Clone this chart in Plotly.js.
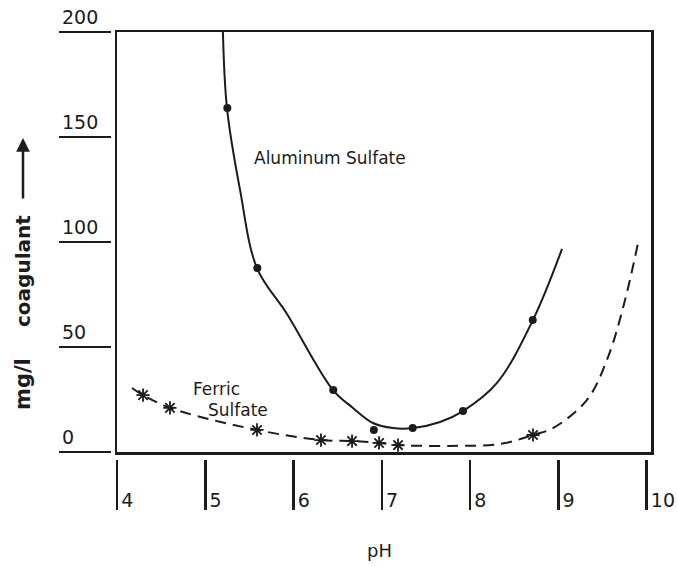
<!DOCTYPE html>
<html>
<head>
<meta charset="utf-8">
<script src="https://cdn.plot.ly/plotly-3.0.1.min.js"></script>
<style>html,body{margin:0;padding:0;background:#fff;}#chart{width:678px;height:566px;}</style>
</head>
<body>
<div id="chart"></div>
<script>
// pH tick labels and coagulant tick labels
const phTicks = [4, 5, 6, 7, 8, 9, 10];
const doseTicks = [0, 50, 100, 150, 200];

// Aluminum sulfate: smooth curve
const alCurvePH   = [5.20, 5.246, 5.394, 5.586, 5.926, 6.447, 6.674, 6.90, 7.127, 7.354, 7.66, 7.92, 8.305, 8.713, 9.042];
const alCurveDose = [200, 163.8, 124.8, 87.6, 65.7, 29.5, 21.0, 13.8, 11.4, 11.4, 14.3, 19.5, 32.9, 62.9, 96.7];
// Aluminum sulfate: measured points (dots)
const alPtsPH   = [5.25, 5.59, 6.45, 6.91, 7.35, 7.92, 8.71];
const alPtsDose = [163.8, 87.6, 29.5, 10.5, 11.4, 19.5, 62.9];

// Ferric sulfate: dashed curve
const feCurvePH   = [4.17, 4.295, 4.60, 5.586, 6.311, 6.663, 6.969, 7.184, 7.773, 8.339, 8.713, 8.94, 9.325, 9.563, 9.756, 9.903];
const feCurveDose = [30.5, 27.1, 21.0, 10.5, 5.7, 5.2, 4.3, 3.3, 2.9, 3.8, 8.1, 11.4, 24.8, 45.2, 72.4, 99.5];
// Ferric sulfate: measured points (asterisks)
const fePtsPH   = [4.295, 4.60, 5.586, 6.311, 6.663, 6.969, 7.184, 8.713];
const fePtsDose = [27.1, 21.0, 10.5, 5.7, 5.2, 4.3, 3.3, 8.1];

const ink = '#1c1c1c';
const font = 'DejaVu Sans, sans-serif';

// main frame: pH 4 -> 10.05 over px 117..651 ; dose 0 -> 200 over px 452..32
const W = 678, PH = 510;            // plot "paper" area (margins l0 r0 t0 b56)
const xL = 117, xR = 651, yB = 452, yT = 32;
const xMin = 4, xMax = 10.05, yMin = 0, yMax = 200;
const sx = (xR - xL) / (xMax - xMin), sy = (yB - yT) / (yMax - yMin);
// tick axes share the same scale but have wider domains
const x2Dom = [0.15, 1];
const x2Range = [xMin - (xL - x2Dom[0] * W) / sx, xMin + (x2Dom[1] * W - xL) / sx];
const y2Dom = [0.09, 1];
const y2Range = [yMin - ((1 - y2Dom[0]) * PH - yB) / sy, yMin + (yB - (1 - y2Dom[1]) * PH) / sy];

const traces = [
  {x: alCurvePH, y: alCurveDose, mode: 'lines', line: {color: ink, width: 2, shape: 'spline', smoothing: 1}, hoverinfo: 'skip'},
  {x: feCurvePH, y: feCurveDose, mode: 'lines', line: {color: ink, width: 2, shape: 'spline', smoothing: 1, dash: '11px,7px'}, hoverinfo: 'skip'},
  {x: fePtsPH, y: fePtsDose, mode: 'markers', marker: {symbol: 'asterisk-open', size: 11, color: ink, line: {color: ink, width: 1.8}}},
  {x: alPtsPH, y: alPtsDose, xaxis: 'x2', yaxis: 'y2', mode: 'markers', marker: {symbol: 'circle', size: 8, color: ink}}
];

const layout = {
  width: 678, height: 566,
  margin: {l: 0, r: 0, t: 0, b: 56},
  paper_bgcolor: '#ffffff', plot_bgcolor: 'rgba(0,0,0,0)',
  showlegend: false,
  font: {family: font, color: ink},
  xaxis: {
    domain: [xL / W, xR / W], range: [xMin, xMax],
    showline: true, mirror: true, linewidth: 2.5, linecolor: ink,
    showgrid: false, zeroline: false, showticklabels: false, ticks: ''
  },
  yaxis: {
    domain: [(PH - yB) / PH, (PH - yT) / PH], range: [yMin, yMax],
    showline: true, mirror: true, linewidth: 2.5, linecolor: ink,
    showgrid: false, zeroline: false, showticklabels: false, ticks: ''
  },
  xaxis2: {
    anchor: 'free', position: 0, side: 'bottom', domain: x2Dom,
    range: x2Range, showline: false, showgrid: false, zeroline: false,
    tickmode: 'array', tickvals: phTicks, ticktext: phTicks.map(String),
    ticks: 'inside', ticklen: 50, tickwidth: 2.5, tickcolor: ink,
    ticklabelposition: 'inside right', ticklabelstandoff: -7, ticklabelshift: 3,
    tickfont: {family: font, size: 19, color: ink}
  },
  yaxis2: {
    anchor: 'free', position: 58 / W, side: 'left', domain: y2Dom,
    range: y2Range, showline: false, showgrid: false, zeroline: false,
    tickmode: 'array', tickvals: doseTicks, ticktext: doseTicks.map(String),
    ticks: 'inside', ticklen: 52, tickwidth: 2.5, tickcolor: ink,
    ticklabelposition: 'inside top',
    tickfont: {family: font, size: 19, color: ink}
  },
  annotations: [
    {text: 'Aluminum Sulfate', x: 6.413, y: 140, xref: 'x', yref: 'y', xanchor: 'center', yanchor: 'middle', showarrow: false, font: {family: font, size: 17, color: ink}},
    {text: 'Ferric', x: 5.127, y: 29.8, xref: 'x', yref: 'y', xanchor: 'center', yanchor: 'middle', showarrow: false, font: {family: font, size: 17, color: ink}},
    {text: 'Sulfate', x: 5.376, y: 20.2, xref: 'x', yref: 'y', xanchor: 'center', yanchor: 'middle', showarrow: false, font: {family: font, size: 17, color: ink}},
    {text: 'pH', x: 379 / W, y: (PH - 550) / PH, xref: 'paper', yref: 'paper', xanchor: 'center', yanchor: 'middle', showarrow: false, font: {family: font, size: 18, color: ink}},
    {text: 'coagulant', x: 23 / W, y: (PH - 271) / PH, xref: 'paper', yref: 'paper', xanchor: 'center', yanchor: 'middle', textangle: -90, showarrow: false, font: {family: font, size: 20, color: ink, weight: 'bold'}},
    {text: 'mg/l', x: 23 / W, y: (PH - 384) / PH, xref: 'paper', yref: 'paper', xanchor: 'center', yanchor: 'middle', textangle: -90, showarrow: false, font: {family: font, size: 21, color: ink, weight: 'bold'}},
    {text: '', x: 23 / W, y: (PH - 138) / PH, xref: 'paper', yref: 'paper', showarrow: true, ax: 0, ay: 62, arrowhead: 2, arrowsize: 1.1, arrowwidth: 2.5, arrowcolor: ink}
  ]
};

Plotly.newPlot('chart', traces, layout, {displayModeBar: false, staticPlot: true});
</script>
</body>
</html>
